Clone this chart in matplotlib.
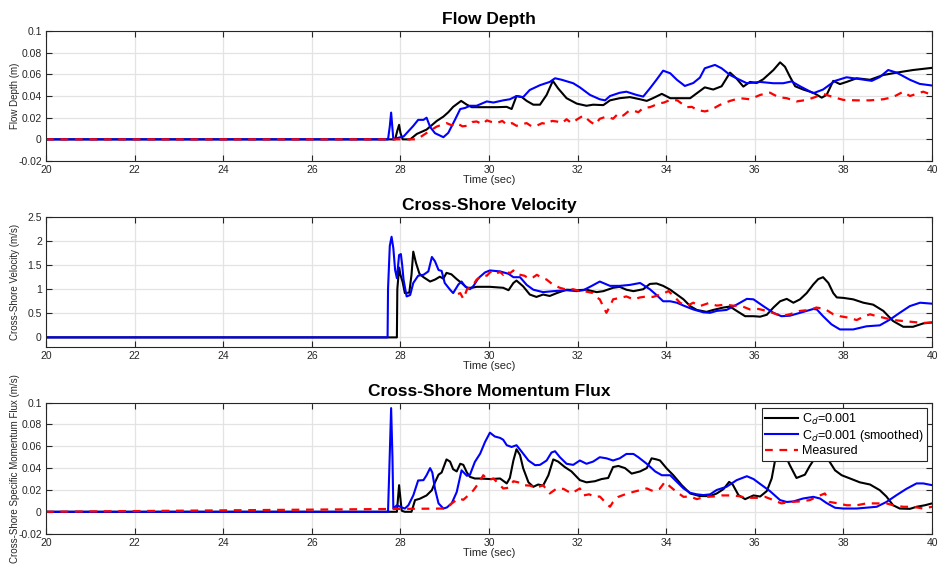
import numpy as np
import matplotlib
matplotlib.use("Agg")
import matplotlib.pyplot as plt
from matplotlib.ticker import FuncFormatter

plt.rcParams['font.family'] = ['Liberation Sans', 'DejaVu Sans']

# time (sec), value pairs
depth_cd = [(20, 0), (27.88, 0), (27.93, 0.008), (27.97, 0.0134), (28.0, 0.006), (28.05, 0), (28.22, 0),
            (28.37, 0.005), (28.59, 0.009), (28.82, 0.017), (28.97, 0.021), (29.08, 0.025), (29.19, 0.030),
            (29.37, 0.0355), (29.5, 0.032), (29.61, 0.0297), (29.8, 0.0297), (30.17, 0.0297), (30.4, 0.030),
            (30.51, 0.028), (30.62, 0.040), (30.74, 0.039), (30.85, 0.0355), (31.0, 0.032), (31.15, 0.032),
            (31.3, 0.041), (31.44, 0.054), (31.56, 0.047), (31.75, 0.038), (31.98, 0.033), (32.2, 0.031),
            (32.35, 0.032), (32.58, 0.0316), (32.73, 0.036), (32.95, 0.038), (33.18, 0.039), (33.41, 0.037),
            (33.56, 0.0355), (33.7, 0.038), (33.9, 0.042), (34.09, 0.038), (34.54, 0.038), (34.87, 0.048),
            (35.06, 0.046), (35.25, 0.049), (35.44, 0.0616), (35.59, 0.056), (35.74, 0.0487), (35.89, 0.053),
            (36.04, 0.052), (36.19, 0.0555), (36.42, 0.064), (36.57, 0.0711), (36.68, 0.067), (36.79, 0.058),
            (36.91, 0.049), (37.09, 0.046), (37.32, 0.043), (37.51, 0.0385), (37.62, 0.041), (37.77, 0.054),
            (37.92, 0.051), (38.07, 0.053), (38.3, 0.0564), (38.6, 0.055), (38.9, 0.0594), (39.2, 0.0616),
            (39.57, 0.064), (40.0, 0.066)]

depth_smooth = [(20, 0), (27.72, 0), (27.76, 0.012), (27.79, 0.0247), (27.82, 0.01), (27.84, 0), (27.9, 0.001),
                (28.07, 0.0026), (28.29, 0.0124), (28.4, 0.018), (28.52, 0.018), (28.59, 0.020), (28.67, 0.0115),
                (28.78, 0.0057), (28.97, 0.002), (29.08, 0.006), (29.23, 0.018), (29.35, 0.028), (29.46, 0.029),
                (29.57, 0.031), (29.72, 0.031), (29.95, 0.035), (30.1, 0.034), (30.32, 0.036), (30.47, 0.037),
                (30.62, 0.040), (30.77, 0.039), (30.92, 0.0456), (31.15, 0.050), (31.37, 0.053), (31.49, 0.0564),
                (31.64, 0.055), (31.9, 0.0518), (32.05, 0.048), (32.28, 0.041), (32.5, 0.037), (32.62, 0.036),
                (32.73, 0.040), (32.95, 0.043), (33.1, 0.044), (33.33, 0.041), (33.48, 0.0395), (33.63, 0.047),
                (33.78, 0.055), (33.93, 0.0634), (34.09, 0.061), (34.24, 0.055), (34.42, 0.0493), (34.61, 0.052),
                (34.76, 0.057), (34.87, 0.0656), (35.1, 0.0687), (35.25, 0.0656), (35.44, 0.0594), (35.63, 0.0555),
                (35.82, 0.0518), (36.12, 0.053), (36.42, 0.0518), (36.64, 0.0518), (36.83, 0.0535), (37.02, 0.049),
                (37.32, 0.0426), (37.54, 0.046), (37.81, 0.054), (38.07, 0.0573), (38.3, 0.056), (38.64, 0.054),
                (38.82, 0.0575), (39.01, 0.064), (39.2, 0.0616), (39.5, 0.055), (39.72, 0.0512), (40.0, 0.0497)]

depth_meas = [(20, 0), (28.37, 0), (28.52, 0.004), (28.67, 0.008), (28.82, 0.0118), (29.04, 0.015), (29.16, 0.013),
              (29.27, 0.015), (29.4, 0.012), (29.5, 0.0125), (29.62, 0.016), (29.72, 0.0165), (29.85, 0.014),
              (29.95, 0.0175), (30.06, 0.016), (30.17, 0.015), (30.3, 0.017), (30.4, 0.0135), (30.52, 0.015),
              (30.62, 0.0125), (30.75, 0.014), (30.85, 0.015), (30.96, 0.012), (31.07, 0.0125), (31.2, 0.015),
              (31.3, 0.014), (31.42, 0.017), (31.53, 0.0165), (31.65, 0.015), (31.75, 0.0186), (31.86, 0.015),
              (32.01, 0.019), (32.13, 0.022), (32.28, 0.0165), (32.39, 0.0135), (32.5, 0.019), (32.65, 0.021),
              (32.8, 0.019), (32.92, 0.024), (33.03, 0.022), (33.15, 0.026), (33.26, 0.0266), (33.37, 0.025),
              (33.48, 0.029), (33.63, 0.0297), (33.71, 0.031), (33.82, 0.033), (33.95, 0.034), (34.09, 0.0364),
              (34.25, 0.036), (34.46, 0.0297), (34.58, 0.030), (34.69, 0.0272), (34.87, 0.0258), (35.0, 0.027),
              (35.21, 0.0318), (35.44, 0.0355), (35.66, 0.038), (35.89, 0.037), (36.12, 0.041), (36.34, 0.0431),
              (36.53, 0.039), (36.72, 0.038), (36.94, 0.035), (37.17, 0.0364), (37.36, 0.039), (37.54, 0.042),
              (37.77, 0.039), (38.0, 0.0364), (38.3, 0.036), (38.6, 0.036), (38.9, 0.037), (39.12, 0.039),
              (39.35, 0.044), (39.5, 0.040), (39.65, 0.042), (39.8, 0.044), (40.0, 0.041)]

vel_cd = [(20, 0), (27.92, 0), (27.93, 1.0), (27.97, 1.45), (28.0, 1.3), (28.05, 1.15), (28.1, 0.92), (28.2, 0.93),
          (28.25, 1.3), (28.29, 1.78), (28.35, 1.55), (28.43, 1.32), (28.52, 1.25), (28.67, 1.16), (28.78, 1.20),
          (28.89, 1.26), (28.97, 1.22), (29.04, 1.34), (29.15, 1.31), (29.27, 1.21), (29.38, 1.13), (29.5, 1.03),
          (29.61, 1.03), (29.72, 1.05), (30.02, 1.05), (30.32, 1.03), (30.44, 0.98), (30.55, 1.13), (30.62, 1.18),
          (30.77, 1.06), (30.92, 0.89), (31.07, 0.84), (31.22, 0.89), (31.37, 0.86), (31.53, 0.92), (31.75, 0.99),
          (31.98, 0.98), (32.2, 0.99), (32.43, 0.94), (32.58, 0.96), (32.8, 1.03), (32.95, 1.05), (33.1, 0.99),
          (33.26, 0.96), (33.48, 1.0), (33.63, 1.11), (33.78, 1.12), (33.93, 1.07), (34.09, 0.99), (34.24, 0.89),
          (34.39, 0.79), (34.54, 0.65), (34.69, 0.57), (34.91, 0.53), (35.06, 0.57), (35.29, 0.62), (35.44, 0.64),
          (35.59, 0.55), (35.78, 0.44), (35.97, 0.44), (36.12, 0.43), (36.27, 0.47), (36.42, 0.62), (36.57, 0.75),
          (36.72, 0.80), (36.87, 0.72), (37.02, 0.79), (37.17, 0.92), (37.32, 1.10), (37.43, 1.21), (37.54, 1.25),
          (37.66, 1.13), (37.77, 0.92), (37.85, 0.83), (38.0, 0.82), (38.22, 0.79), (38.45, 0.72), (38.67, 0.68),
          (38.9, 0.55), (39.12, 0.34), (39.35, 0.22), (39.57, 0.22), (39.8, 0.29), (40.0, 0.31)]

vel_smooth = [(20, 0), (27.71, 0), (27.72, 1.0), (27.76, 1.9), (27.80, 2.09), (27.84, 1.85), (27.88, 1.40),
              (27.92, 1.23), (27.97, 1.71), (28.01, 1.73), (28.04, 1.5), (28.07, 1.20), (28.14, 0.85), (28.22, 0.88),
              (28.29, 1.13), (28.4, 1.28), (28.52, 1.30), (28.63, 1.37), (28.71, 1.67), (28.78, 1.58), (28.86, 1.40),
              (28.93, 1.38), (29.0, 1.13), (29.12, 0.99), (29.19, 0.92), (29.31, 1.10), (29.38, 1.16), (29.46, 1.06),
              (29.57, 1.0), (29.65, 1.07), (29.76, 1.23), (29.91, 1.35), (30.02, 1.39), (30.25, 1.37), (30.44, 1.32),
              (30.55, 1.25), (30.7, 1.25), (30.85, 1.09), (31.0, 0.99), (31.22, 0.94), (31.45, 0.96), (31.75, 0.98),
              (31.98, 0.96), (32.13, 0.98), (32.32, 1.07), (32.5, 1.16), (32.73, 1.07), (32.95, 1.07), (33.18, 1.09),
              (33.41, 1.13), (33.63, 1.0), (33.78, 0.88), (33.93, 0.75), (34.09, 0.75), (34.24, 0.72), (34.39, 0.66),
              (34.61, 0.58), (34.84, 0.52), (34.99, 0.51), (35.14, 0.55), (35.36, 0.57), (35.59, 0.68), (35.82, 0.80),
              (35.97, 0.79), (36.19, 0.65), (36.42, 0.51), (36.6, 0.44), (36.79, 0.45), (37.02, 0.51), (37.32, 0.59),
              (37.4, 0.58), (37.54, 0.44), (37.73, 0.27), (37.92, 0.165), (38.22, 0.165), (38.52, 0.23), (38.82, 0.25),
              (39.05, 0.37), (39.27, 0.51), (39.5, 0.65), (39.73, 0.72), (40.0, 0.70)]

vel_meas = [(29.3, 0.9), (29.35, 0.92), (29.42, 0.80), (29.5, 0.99), (29.58, 1.05), (29.65, 1.1), (29.72, 1.20),
            (29.8, 1.25), (29.87, 1.30), (29.95, 1.28), (30.02, 1.35), (30.1, 1.38), (30.17, 1.33), (30.25, 1.36),
            (30.32, 1.30), (30.4, 1.38), (30.47, 1.33), (30.55, 1.39), (30.62, 1.32), (30.7, 1.30), (30.8, 1.28),
            (30.9, 1.22), (31.0, 1.25), (31.08, 1.30), (31.15, 1.26), (31.3, 1.20), (31.45, 1.09), (31.6, 1.03),
            (31.75, 0.99), (31.9, 1.00), (32.05, 0.96), (32.2, 0.95), (32.35, 0.92), (32.45, 0.82), (32.5, 0.79),
            (32.6, 0.6), (32.65, 0.51), (32.73, 0.65), (32.8, 0.79), (32.95, 0.82), (33.1, 0.85), (33.26, 0.79),
            (33.41, 0.83), (33.56, 0.85), (33.7, 0.84), (33.93, 0.91), (34.05, 0.96), (34.18, 0.85), (34.31, 0.72),
            (34.46, 0.65), (34.61, 0.72), (34.76, 0.65), (34.95, 0.71), (35.14, 0.66), (35.33, 0.68), (35.5, 0.66),
            (35.7, 0.65), (35.89, 0.58), (36.08, 0.59), (36.27, 0.55), (36.49, 0.48), (36.64, 0.45), (36.79, 0.48),
            (37.02, 0.55), (37.24, 0.57), (37.39, 0.62), (37.58, 0.59), (37.77, 0.48), (37.92, 0.44), (38.11, 0.41),
            (38.3, 0.36), (38.45, 0.43), (38.6, 0.48), (38.75, 0.44), (38.9, 0.41), (39.12, 0.36), (39.35, 0.34),
            (39.57, 0.32), (39.8, 0.30), (40.0, 0.31)]

flux_cd = [(20, 0), (27.92, 0), (27.97, 0.0244), (28.01, 0.008), (28.03, 0.001), (28.1, 0), (28.25, 0),
           (28.33, 0.0107), (28.44, 0.012), (28.59, 0.015), (28.71, 0.0198), (28.78, 0.027), (28.86, 0.034),
           (28.93, 0.036), (29.04, 0.048), (29.12, 0.046), (29.19, 0.039), (29.27, 0.037), (29.35, 0.044),
           (29.42, 0.043), (29.5, 0.036), (29.57, 0.032), (29.68, 0.0305), (29.8, 0.0305), (30.02, 0.030),
           (30.25, 0.0305), (30.4, 0.026), (30.47, 0.031), (30.55, 0.047), (30.62, 0.0573), (30.7, 0.052),
           (30.77, 0.040), (30.89, 0.027), (31.0, 0.0229), (31.11, 0.025), (31.22, 0.024), (31.34, 0.0335),
           (31.45, 0.048), (31.56, 0.046), (31.71, 0.041), (31.86, 0.037), (32.05, 0.029), (32.2, 0.027),
           (32.39, 0.028), (32.54, 0.030), (32.69, 0.031), (32.8, 0.041), (32.92, 0.042), (33.07, 0.040),
           (33.22, 0.035), (33.41, 0.037), (33.56, 0.040), (33.67, 0.049), (33.78, 0.048), (33.86, 0.047),
           (34.01, 0.0397), (34.16, 0.0335), (34.35, 0.0244), (34.54, 0.0168), (34.76, 0.0144), (34.99, 0.0144),
           (35.14, 0.0168), (35.29, 0.0207), (35.42, 0.0274), (35.5, 0.025), (35.63, 0.0153), (35.78, 0.0116),
           (35.97, 0.015), (36.12, 0.014), (36.27, 0.019), (36.38, 0.0305), (36.45, 0.0457), (36.55, 0.057),
           (36.65, 0.055), (36.79, 0.0427), (36.94, 0.031), (37.13, 0.034), (37.24, 0.042), (37.32, 0.047),
           (37.45, 0.055), (37.58, 0.052), (37.69, 0.0457), (37.81, 0.038), (37.96, 0.0335), (38.15, 0.0305),
           (38.37, 0.027), (38.6, 0.025), (38.82, 0.0198), (38.97, 0.014), (39.12, 0.006), (39.27, 0.003),
           (39.5, 0.0027), (39.65, 0.0046), (39.84, 0.006), (40.0, 0.0077)]

flux_smooth = [(20, 0), (27.72, 0), (27.75, 0.04), (27.79, 0.095), (27.82, 0.05), (27.84, 0.003), (27.92, 0.006),
               (28.03, 0.004), (28.1, 0.003), (28.18, 0.006), (28.29, 0.015), (28.4, 0.0287), (28.52, 0.029),
               (28.59, 0.0335), (28.67, 0.040), (28.72, 0.036), (28.78, 0.021), (28.86, 0.0077), (28.97, 0.003),
               (29.05, 0.004), (29.16, 0.008), (29.27, 0.018), (29.38, 0.038), (29.5, 0.033), (29.57, 0.034),
               (29.68, 0.0457), (29.8, 0.0533), (29.91, 0.064), (30.02, 0.0725), (30.13, 0.069), (30.25, 0.0677),
               (30.32, 0.066), (30.4, 0.061), (30.51, 0.0594), (30.62, 0.061), (30.74, 0.0549), (30.89, 0.047),
               (31.04, 0.0427), (31.15, 0.043), (31.3, 0.047), (31.41, 0.0543), (31.49, 0.0555), (31.6, 0.050),
               (31.75, 0.044), (31.9, 0.043), (32.05, 0.047), (32.2, 0.044), (32.35, 0.046), (32.5, 0.050),
               (32.65, 0.049), (32.8, 0.047), (32.95, 0.049), (33.1, 0.053), (33.26, 0.053), (33.37, 0.050),
               (33.56, 0.044), (33.67, 0.040), (33.75, 0.037), (33.9, 0.0335), (34.09, 0.0335), (34.24, 0.0274),
               (34.39, 0.0214), (34.54, 0.0174), (34.69, 0.016), (34.84, 0.0153), (34.99, 0.016), (35.14, 0.020),
               (35.36, 0.0229), (35.59, 0.029), (35.82, 0.0326), (35.97, 0.030), (36.12, 0.0255), (36.34, 0.019),
               (36.57, 0.0107), (36.72, 0.009), (36.87, 0.0095), (37.09, 0.0122), (37.32, 0.0137), (37.47, 0.0122),
               (37.62, 0.008), (37.81, 0.0037), (38.0, 0.003), (38.3, 0.003), (38.75, 0.0046), (38.97, 0.009),
               (39.2, 0.0153), (39.42, 0.021), (39.65, 0.026), (39.8, 0.026), (40.0, 0.0244)]

flux_meas = [(20, 0), (29.04, 0.003), (29.16, 0.0077), (29.31, 0.0122), (29.42, 0.011), (29.53, 0.015),
             (29.65, 0.0198), (29.76, 0.026), (29.87, 0.0335), (29.98, 0.029), (30.1, 0.0305), (30.21, 0.026),
             (30.32, 0.0214), (30.44, 0.022), (30.55, 0.028), (30.66, 0.027), (30.77, 0.0244), (30.92, 0.024),
             (31.07, 0.022), (31.22, 0.0244), (31.37, 0.0168), (31.53, 0.0214), (31.68, 0.021), (31.86, 0.0168),
             (32.05, 0.0214), (32.13, 0.015), (32.26, 0.016), (32.39, 0.0137), (32.5, 0.014), (32.65, 0.0077),
             (32.73, 0.0046), (32.8, 0.009), (32.92, 0.0137), (33.07, 0.016), (33.26, 0.0183), (33.41, 0.0198),
             (33.56, 0.0214), (33.7, 0.019), (33.85, 0.021), (33.97, 0.0274), (34.09, 0.023), (34.24, 0.018),
             (34.39, 0.0137), (34.54, 0.014), (34.69, 0.0116), (34.87, 0.0137), (35.06, 0.014), (35.25, 0.015),
             (35.44, 0.015), (35.63, 0.0144), (35.82, 0.0128), (36.04, 0.0128), (36.23, 0.0137), (36.42, 0.0107),
             (36.6, 0.0077), (36.79, 0.009), (37.02, 0.0095), (37.24, 0.0107), (37.47, 0.015), (37.58, 0.0168),
             (37.69, 0.009), (37.88, 0.0077), (38.07, 0.006), (38.3, 0.006), (38.52, 0.0077), (38.75, 0.0077),
             (38.97, 0.0077), (39.12, 0.006), (39.35, 0.0046), (39.57, 0.0046), (39.8, 0.003), (40.0, 0.0046)]

titles = ["Flow Depth", "Cross-Shore Velocity", "Cross-Shore Momentum Flux"]
ylabels = ["Flow Depth (m)", "Cross-Shore Velocity (m/s)", "Cross-Shore Specific Momentum Flux (m/s)"]
legend_labels = ["C$_d$=0.001", "C$_d$=0.001 (smoothed)", "Measured"]
xticks = np.arange(20, 41, 2)

panels = [
    (depth_cd, depth_smooth, depth_meas, (-0.02, 0.1), np.arange(-0.02, 0.101, 0.02)),
    (vel_cd, vel_smooth, vel_meas, (-0.2, 2.5), np.arange(0, 2.51, 0.5)),
    (flux_cd, flux_smooth, flux_meas, (-0.02, 0.1), np.arange(-0.02, 0.101, 0.02)),
]

fig = plt.figure(figsize=(9.39, 5.66), dpi=100)
rects = [[0.049, 0.7155, 0.9436, 0.2297],
         [0.049, 0.3869, 0.9436, 0.2297],
         [0.049, 0.0572, 0.9436, 0.2314]]

fmt = FuncFormatter(lambda v, p: "%g" % round(v, 4))

for i, (cd, sm, me, ylim, yt) in enumerate(panels):
    ax = fig.add_axes(rects[i])
    t, v = np.array(cd).T
    ax.plot(t, v, color="k", lw=1.5, label=legend_labels[0])
    t, v = np.array(sm).T
    ax.plot(t, v, color="#0000ff", lw=1.5, label=legend_labels[1])
    t, v = np.array(me).T
    ax.plot(t, v, color="#ff0000", lw=1.6, ls=(0, (3.5, 3.0)), label=legend_labels[2])

    ax.set_xlim(20, 40)
    ax.set_ylim(*ylim)
    ax.set_xticks(xticks)
    ax.set_yticks(yt)
    ax.yaxis.set_major_formatter(fmt)
    ax.grid(True, color="#e3e3e3", lw=0.9)
    ax.set_axisbelow(True)
    ax.tick_params(direction="in", top=True, right=True, length=4.5, width=0.8,
                   labelsize=7.5, colors="#262626", pad=3)
    for s in ax.spines.values():
        s.set_color("#262626")
        s.set_linewidth(0.8)
    ax.set_title(titles[i], fontsize=12.5, fontweight="bold", pad=5)
    ax.set_xlabel("Time (sec)", fontsize=8, color="#262626", labelpad=0)
    ax.set_ylabel(ylabels[i], fontsize=7, color="#262626")
    ax.yaxis.set_label_coords(-0.0295, 0.5)

    if i == 2:
        leg = ax.legend(loc="upper right", fontsize=9, frameon=True, fancybox=False,
                        framealpha=1, edgecolor="#262626", borderpad=0.3, labelspacing=0.1,
                        handlelength=2.6, handletextpad=0.3, borderaxespad=0.4)
        leg.get_frame().set_linewidth(0.8)

fig.savefig("out.png", dpi=100)
